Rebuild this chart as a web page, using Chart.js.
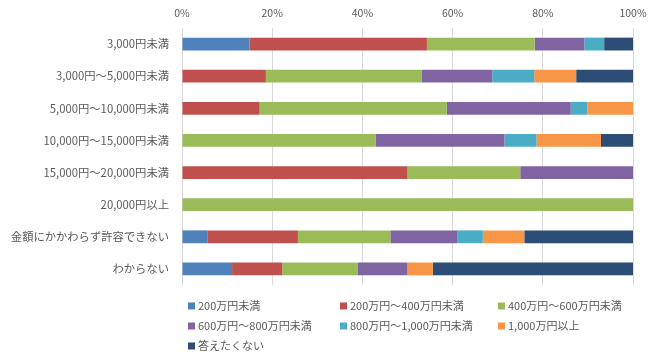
<!DOCTYPE html>
<html><head><meta charset="utf-8">
<script src="https://cdn.jsdelivr.net/npm/chart.js@4"></script>
<style>html,body{margin:0;padding:0;background:#fff}#wrap{position:relative;width:650px;height:358px}</style>
</head><body><div id="wrap"><canvas id="c" width="650" height="358"></canvas></div>
<script>
const categories = ['3,000円未満','3,000円～5,000円未満','5,000円～10,000円未満','10,000円～15,000円未満','15,000円～20,000円未満','20,000円以上','金額にかかわらず許容できない','わからない'];
const seriesNames = ['200万円未満','200万円～400万円未満','400万円～600万円未満','600万円～800万円未満','800万円～1,000万円未満','1,000万円以上','答えたくない'];
const s200 = [15.0, 0, 0, 0, 0, 0, 5.6, 11.1];
const s400 = [39.3, 18.6, 17.2, 0, 50.0, 0, 20.1, 11.1];
const s600 = [23.9, 34.5, 41.5, 42.9, 25.0, 100, 20.5, 16.7];
const s800 = [11.0, 15.7, 27.5, 28.6, 25.0, 0, 14.8, 11.1];
const s1000 = [4.4, 9.3, 3.7, 7.1, 0, 0, 5.7, 0];
const sOver = [0, 9.3, 10.1, 14.3, 0, 0, 9.2, 5.6];
const sNoAns = [6.4, 12.6, 0, 7.1, 0, 0, 24.1, 44.4];
const xTicks = [0, 20, 40, 60, 80, 100];

const colors = ['#4F81BD','#C0504D','#9BBB59','#8064A2','#4BACC6','#F79646','#2C4D75'];
const values = [s200, s400, s600, s800, s1000, sOver, sNoAns];
const FONT = '"Noto Sans CJK JP", "Noto Sans", sans-serif';
const TXT = '#595959';

const legendPlugin = {
  id: 'gridLegend',
  afterDraw(chart) {
    const ctx = chart.ctx;
    const colX = [188, 340, 498];
    ctx.save();
    ctx.font = '11px ' + FONT;
    ctx.textBaseline = 'middle';
    ctx.textAlign = 'left';
    chart.data.datasets.forEach((ds, i) => {
      const x = colX[i % 3];
      const y = 306 + Math.floor(i / 3) * 20;
      ctx.fillStyle = ds.backgroundColor;
      ctx.fillRect(x, y - 3.5, 7, 7);
      ctx.fillStyle = TXT;
      ctx.fillText(ds.label, x + 10, y);
    });
    ctx.restore();
  }
};

new Chart(document.getElementById('c'), {
  type: 'bar',
  data: {
    labels: categories,
    datasets: seriesNames.map((n, i) => ({
      label: n, data: values[i], backgroundColor: colors[i],
      borderWidth: 0, categoryPercentage: 1, barPercentage: 0.4
    }))
  },
  options: {
    indexAxis: 'y',
    responsive: false,
    animation: false,
    layout: { padding: { left: 0, right: 17, top: 0, bottom: 73 } },
    plugins: { legend: { display: false }, tooltip: { enabled: false } },
    scales: {
      x: {
        position: 'top', stacked: true, min: 0, max: 100,
        afterBuildTicks: s => { s.ticks = xTicks.map(v => ({ value: v })); },
        afterFit: s => { s.height = 28; s.paddingRight = 0; s.paddingLeft = 0; },
        grid: { color: '#D9D9D9', drawTicks: false },
        border: { display: false },
        ticks: { callback: v => v + '%', color: TXT, font: { family: FONT, size: 10.5 }, padding: 9 }
      },
      y: {
        stacked: true,
        afterFit: s => { s.width = 182; },
        grid: { display: false },
        border: { display: false },
        ticks: { color: TXT, font: { family: FONT, size: 11.3 }, padding: 5 }
      }
    }
  },
  plugins: [legendPlugin]
});
</script></body></html>
